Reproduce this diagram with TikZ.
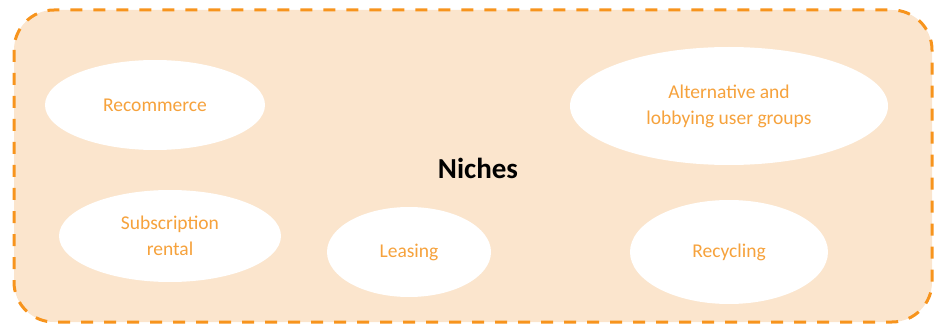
\documentclass[tikz,border=0pt]{standalone}
\usepackage{fontspec}
\setmainfont{Carlito}
\usetikzlibrary{shapes.geometric}
\definecolor{peach}{HTML}{FBE5CD}
\definecolor{dashor}{HTML}{F7941D}
\definecolor{txtor}{HTML}{F6A23C}
\tikzset{
  niche/.style={ellipse, fill=white, draw=none, inner sep=0pt, text=txtor, font=\fontsize{19.5}{26}\selectfont, align=center},
  frame/.style={draw=dashor, line width=3pt, fill=peach, rounded corners=40pt, dash pattern=on 12pt off 11pt}
}
\begin{document}
\begin{tikzpicture}[x=1pt,y=-1pt]
\useasboundingbox (0,0) rectangle (935,326);
\draw[frame] (14,10) rectangle (932,322);
\node[niche, minimum width=220pt, minimum height=90pt] (rec) at (155,105) {\raisebox{-2pt}{Recommerce}};
\node[niche, minimum width=318pt, minimum height=118pt] (alt) at (729,106) {Alternative and\\lobbying user groups};
\node[niche, minimum width=222pt, minimum height=92pt] (sub) at (170,236) {Subscription\\rental};
\node[niche, minimum width=164pt, minimum height=90pt] (lea) at (409,252) {\raisebox{-2pt}{Leasing}};
\node[niche, minimum width=198pt, minimum height=104pt] (recy) at (729,252) {\raisebox{-2pt}{Recycling}};
\node[font=\fontsize{29}{34}\selectfont\bfseries, text=black] (nic) at (478,168) {Niches};
\end{tikzpicture}
\end{document}
